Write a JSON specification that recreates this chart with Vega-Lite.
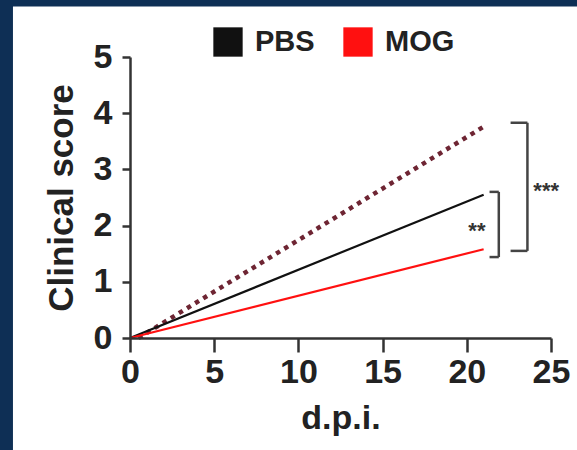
{
  "$schema": "https://vega.github.io/schema/vega-lite/v6.json",
  "autosize": "none",
  "width": 421,
  "height": 281,
  "padding": {"left": 130, "top": 57, "right": 26, "bottom": 112},
  "background": "#0e2f55",
  "config": {
    "view": {"stroke": null},
    "font": "Liberation Sans"
  },
  "datasets": {
    "panel": [{"x1": -6.95, "x2": 27.5, "y1": -2.1, "y2": 5.9}],
    "lines": [
      {"group": "PBS", "dpi": 0, "score": 0},
      {"group": "PBS", "dpi": 21, "score": 2.55},
      {"group": "MOG", "dpi": 0, "score": 0},
      {"group": "MOG", "dpi": 21, "score": 1.58}
    ],
    "dotted": [
      {"dpi": 0.5, "score": 0},
      {"dpi": 21, "score": 3.76}
    ],
    "brackets": [
      {"x1": 21.9, "x2": 21.9, "y1": 1.44, "y2": 2.6},
      {"x1": 21.35, "x2": 21.9, "y1": 2.6, "y2": 2.6},
      {"x1": 21.35, "x2": 21.9, "y1": 1.44, "y2": 1.44},
      {"x1": 23.6, "x2": 23.6, "y1": 1.55, "y2": 3.83},
      {"x1": 22.6, "x2": 23.6, "y1": 3.83, "y2": 3.83},
      {"x1": 22.6, "x2": 23.6, "y1": 1.55, "y2": 1.55}
    ],
    "labels2": [{"x": 20.6, "y": 1.9, "label": "**"}],
    "labels3": [{"x": 23.95, "y": 2.62, "label": "***"}]
  },
  "layer": [
    {
      "data": {"name": "panel"},
      "mark": {"type": "rect", "color": "white", "clip": false},
      "encoding": {
        "x": {"field": "x1", "type": "quantitative", "scale": {"domain": [0, 25], "nice": false}},
        "x2": {"field": "x2"},
        "y": {"field": "y1", "type": "quantitative", "scale": {"domain": [0, 5], "nice": false}},
        "y2": {"field": "y2"}
      }
    },
    {
      "data": {"name": "dotted"},
      "mark": {"type": "line", "color": "#6e2533", "strokeWidth": 4.5, "strokeDash": [4.5, 5]},
      "encoding": {
        "x": {"field": "dpi", "type": "quantitative"},
        "y": {"field": "score", "type": "quantitative"}
      }
    },
    {
      "data": {"name": "lines"},
      "mark": {"type": "line", "strokeWidth": 2.2},
      "encoding": {
        "x": {
          "field": "dpi", "type": "quantitative",
          "axis": {
            "title": "d.p.i.", "values": [0, 5, 10, 15, 20, 25], "zindex": 1, "format": "d",
            "domainColor": "#333", "domainWidth": 2.5,
            "tickColor": "#333", "tickWidth": 2.5, "tickSize": 14,
            "labelFont": "Liberation Sans", "labelFontWeight": "bold", "labelFontSize": 34, "labelColor": "#222",
            "labelPadding": 3, "labelFlush": false, "grid": false,
            "titleFont": "Liberation Sans", "titleFontWeight": "bold", "titleFontSize": 34, "titleColor": "#222", "titlePadding": 12
          }
        },
        "y": {
          "field": "score", "type": "quantitative",
          "axis": {
            "title": "Clinical score", "values": [0, 1, 2, 3, 4, 5], "zindex": 1, "format": "d",
            "domainColor": "#333", "domainWidth": 2.5,
            "tickColor": "#333", "tickWidth": 2.5, "tickSize": 8,
            "labelFont": "Liberation Sans", "labelFontWeight": "bold", "labelFontSize": 34, "labelColor": "#222",
            "labelPadding": 10, "labelFlush": false, "grid": false,
            "titleFont": "Liberation Sans", "titleFontWeight": "bold", "titleFontSize": 35, "titleColor": "#222", "titlePadding": 14
          }
        },
        "color": {
          "field": "group", "type": "nominal",
          "scale": {"domain": ["PBS", "MOG"], "range": ["#111111", "#ff1010"]},
          "legend": {
            "title": null, "orient": "none", "direction": "horizontal",
            "legendX": 83, "legendY": -30, "zindex": 1,
            "symbolType": "square", "symbolSize": 860, "symbolStrokeWidth": 0,
            "labelFont": "Liberation Sans", "labelFontWeight": "bold", "labelFontSize": 29, "labelColor": "#222",
            "columnPadding": 28, "labelOffset": 12,
            "encode": {"symbols": {"update": {"fill": {"scale": "color", "field": "value"}, "fillOpacity": {"value": 1}}}}
          }
        }
      }
    },
    {
      "data": {"name": "brackets"},
      "mark": {"type": "rule", "color": "#444", "strokeWidth": 2.5, "clip": false},
      "encoding": {
        "x": {"field": "x1", "type": "quantitative"},
        "x2": {"field": "x2"},
        "y": {"field": "y1", "type": "quantitative"},
        "y2": {"field": "y2"}
      }
    },
    {
      "data": {"name": "labels2"},
      "mark": {"type": "text", "fontSize": 22, "fontWeight": "bold", "color": "#333", "baseline": "middle", "align": "center", "clip": false},
      "encoding": {
        "x": {"field": "x", "type": "quantitative"},
        "y": {"field": "y", "type": "quantitative"},
        "text": {"field": "label"}
      }
    },
    {
      "data": {"name": "labels3"},
      "mark": {"type": "text", "fontSize": 22, "fontWeight": "bold", "color": "#333", "baseline": "middle", "align": "left", "clip": false},
      "encoding": {
        "x": {"field": "x", "type": "quantitative"},
        "y": {"field": "y", "type": "quantitative"},
        "text": {"field": "label"}
      }
    }
  ]
}
